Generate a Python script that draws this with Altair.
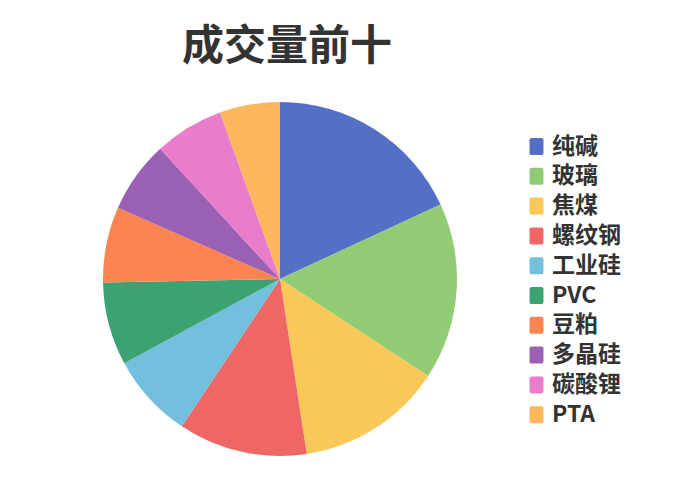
import altair as alt
import pandas as pd

categories = ["纯碱", "玻璃", "焦煤", "螺纹钢", "工业硅", "PVC", "豆粕", "多晶硅", "碳酸锂", "PTA"]
values = [65.1, 58.1, 48.1, 42.4, 27.9, 27.3, 24.8, 23.7, 22.8, 19.8]
colors = ["#5470c6", "#91cc75", "#fac858", "#ee6666", "#73c0de",
          "#3ba272", "#fc8452", "#9a60b4", "#ea7ccc", "#fcb65c"]
title_text = "成交量前十"

df = pd.DataFrame({"name": categories, "value": values, "idx": list(range(len(categories)))})

FONT = "Noto Sans CJK SC"
sym = ("M-0.58,-1 H0.58 A0.24,0.24 0 0 1 0.82,-0.76 V0.76 A0.24,0.24 0 0 1 0.58,1 "
       "H-0.58 A0.24,0.24 0 0 1 -0.82,0.76 V-0.76 A0.24,0.24 0 0 1 -0.58,-1 Z")

pie = alt.Chart(df).mark_arc(outerRadius=177).encode(
    x=alt.value(272),
    y=alt.value(271),
    theta=alt.Theta("value:Q", stack=True),
    order=alt.Order("idx:Q"),
    color=alt.Color(
        "name:N",
        scale=alt.Scale(domain=categories, range=colors),
        sort=categories,
        legend=alt.Legend(
            title=None,
            orient="none",
            legendX=517,
            legendY=127,
            symbolType=sym,
            symbolSize=289,
            symbolOpacity=1,
            symbolStrokeWidth=0,
            labelFont=FONT,
            labelFontSize=23,
            labelFontWeight="bold",
            labelColor="#333333",
            labelOffset=4,
            rowPadding=5.8,
            padding=0,
        ),
    ),
)

title = alt.Chart(pd.DataFrame({"t": [title_text]})).mark_text(
    font=FONT, fontSize=42, fontWeight="bold", color="#333333",
    align="center", baseline="middle",
).encode(x=alt.value(279), y=alt.value(39), text="t:N")

chart = alt.layer(pie, title).properties(
    width=684, height=484, padding=0,
    autosize=alt.AutoSizeParams(type="none"),
).configure_view(stroke=None)

chart.save("out.html", embed_options={"renderer": "svg", "actions": False})
